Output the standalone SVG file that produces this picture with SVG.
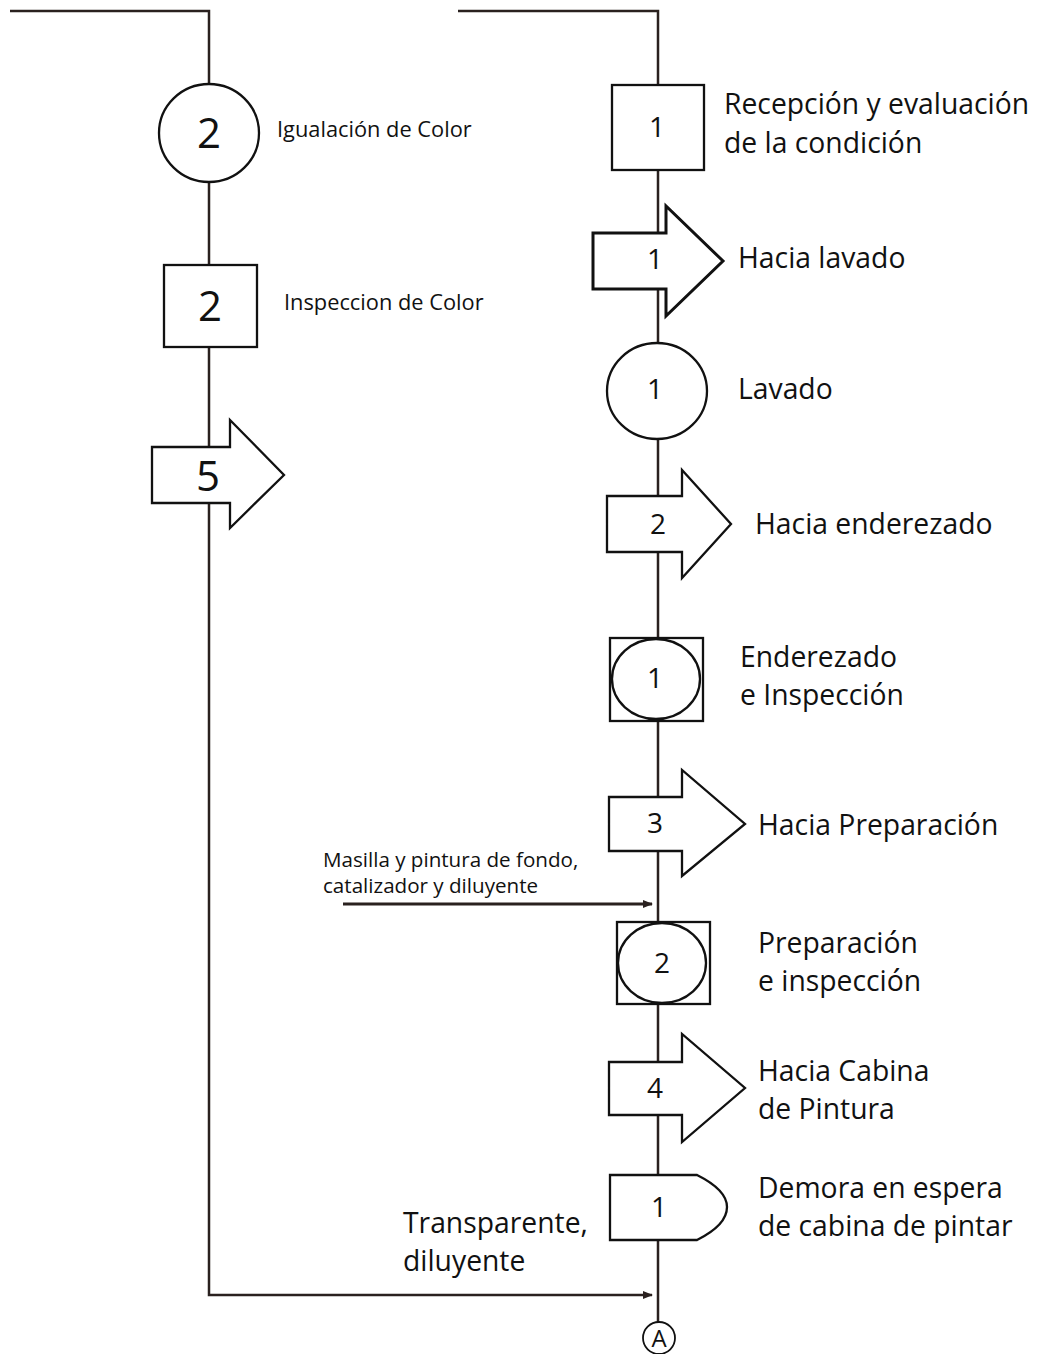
<svg xmlns="http://www.w3.org/2000/svg" width="1047" height="1354" viewBox="0 0 1047 1354">
<style>
.ln{fill:none;stroke:#2a211f;stroke-width:2.5}
.sh{fill:#fff;stroke:#111;stroke-width:2.3}
.t{font-family:"Open Sans","Liberation Sans",sans-serif;fill:#111}
.lb{font-size:28.3px}
.sm{font-size:21.8px}
.ms{font-size:20.6px}
.n{font-size:28px;text-anchor:middle}
.nb{font-size:42px;text-anchor:middle}
</style>
<defs>
<marker id="ah" markerWidth="10" markerHeight="8" refX="9" refY="4" orient="auto" markerUnits="userSpaceOnUse">
<path d="M0,0 L10,4 L0,8 Z" fill="#2a211f"/>
</marker>
</defs>
<g id="connectors">
<path class="ln" d="M10,11 H209 V1295 H652" marker-end="url(#ah)"/>
<path class="ln" d="M458,11 H658 V1322"/>
<path class="ln" style="stroke-width:3" d="M343,904 H652" marker-end="url(#ah)"/>
</g>
<g id="op2-igualacion">
<ellipse class="sh" cx="209" cy="133" rx="50" ry="49"/>
<text class="t nb" x="209" y="148">2</text>
<text class="t sm" x="277" y="137">Igualación de Color</text>
</g>
<g id="insp2-color">
<rect class="sh" x="164" y="265" width="93" height="82"/>
<text class="t nb" x="210" y="321">2</text>
<text class="t sm" x="284" y="310">Inspeccion de Color</text>
</g>
<g id="trans5">
<path class="sh" d="M152,447 H230 V420 L284,475 L230,528 V503 H152 Z"/>
<text class="t nb" x="208" y="491">5</text>
</g>
<g id="insp1-recepcion">
<rect class="sh" x="612" y="85" width="92" height="85"/>
<text class="t n" x="657" y="137">1</text>
<text class="t lb" x="724" y="114">Recepción y evaluación</text>
<text class="t lb" x="724" y="153">de la condición</text>
</g>
<g id="trans1-lavado">
<path class="sh" style="stroke-width:3" d="M593,233 H666 V206 L723,261 L666,316 V289 H593 Z"/>
<text class="t n" x="655" y="269">1</text>
<text class="t lb" x="738" y="268">Hacia lavado</text>
</g>
<g id="op1-lavado">
<ellipse class="sh" cx="657" cy="391" rx="50" ry="48"/>
<text class="t n" x="655" y="399">1</text>
<text class="t lb" x="738" y="399">Lavado</text>
</g>
<g id="trans2-enderezado">
<path class="sh" d="M607,496 H682 V470 L731,524 L682,578 V552 H607 Z"/>
<text class="t n" x="658" y="534">2</text>
<text class="t lb" x="755" y="534">Hacia enderezado</text>
</g>
<g id="comb1-enderezado">
<rect class="sh" x="610" y="638" width="93" height="83"/>
<ellipse class="sh" cx="656" cy="679" rx="44" ry="40"/>
<text class="t n" x="655" y="688">1</text>
<text class="t lb" x="740" y="667">Enderezado</text>
<text class="t lb" x="740" y="705">e Inspección</text>
</g>
<g id="trans3-preparacion">
<path class="sh" d="M609,797 H682 V770 L745,824 L682,876 V851 H609 Z"/>
<text class="t n" x="655" y="833">3</text>
<text class="t lb" x="758" y="835">Hacia Preparación</text>
</g>
<g id="input-masilla">
<text class="t ms" x="323" y="867">Masilla y pintura de fondo,</text>
<text class="t ms" x="323" y="893">catalizador y diluyente</text>
</g>
<g id="comb2-preparacion">
<rect class="sh" x="617" y="922" width="93" height="82"/>
<ellipse class="sh" cx="662" cy="963" rx="44" ry="40"/>
<text class="t n" x="662" y="973">2</text>
<text class="t lb" x="758" y="953">Preparación</text>
<text class="t lb" x="758" y="991">e inspección</text>
</g>
<g id="trans4-cabina">
<path class="sh" d="M609,1062 H682 V1034 L745,1088 L682,1142 V1115 H609 Z"/>
<text class="t n" x="655" y="1098">4</text>
<text class="t lb" x="758" y="1081">Hacia Cabina</text>
<text class="t lb" x="758" y="1119">de Pintura</text>
</g>
<g id="delay1-espera">
<path class="sh" d="M610,1175 H697 Q727,1190 727,1207 Q727,1225 697,1240 H610 Z"/>
<text class="t n" x="659" y="1217">1</text>
<text class="t lb" x="758" y="1198">Demora en espera</text>
<text class="t lb" x="758" y="1236">de cabina de pintar</text>
</g>
<g id="input-transparente">
<text class="t lb" x="403" y="1233">Transparente,</text>
<text class="t lb" x="403" y="1271">diluyente</text>
</g>
<g id="connector-A">
<circle class="sh" style="stroke-width:1.8" cx="659" cy="1338" r="16"/>
<text class="t" style="font-size:24px;text-anchor:middle" x="659" y="1347">A</text>
</g>
</svg>
